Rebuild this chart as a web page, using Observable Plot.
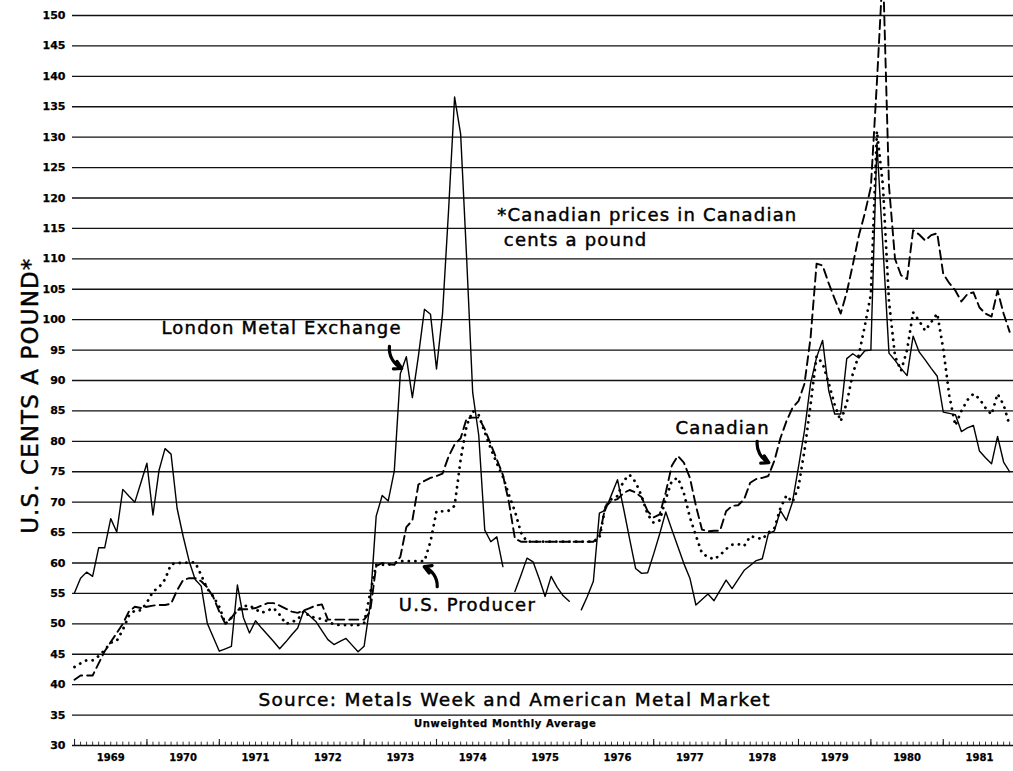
<!DOCTYPE html>
<html>
<head>
<meta charset="utf-8">
<script src="https://cdn.jsdelivr.net/npm/d3@7"></script>
<script src="https://cdn.jsdelivr.net/npm/@observablehq/plot@0.6"></script>
<style>
  html, body { margin: 0; padding: 0; background: #fff; }
  #chart { width: 1013px; height: 771px; overflow: hidden; }
</style>
</head>
<body>
<div id="chart"></div>
<script>
// ---- Data: monthly averages, Jan 1969 .. Dec 1981 (cents a pound) ----
const firstYear = 1969;
const yearLabels = [1969, 1970, 1971, 1972, 1973, 1974, 1975, 1976, 1977, 1978, 1979, 1980, 1981];
const yTickValues = [30, 35, 40, 45, 50, 55, 60, 65, 70, 75, 80, 85, 90, 95, 100, 105, 110, 115, 120, 125, 130, 135, 140, 145, 150];

// London Metal Exchange (solid)
const lme = [
  55.1, 57.5, 58.5, 57.8, 62.5, 62.5, 67.3, 65.1, 72.1, 71.0, 70.0, 73.2,
  76.4, 67.9, 75.2, 78.8, 77.9, 69.0, 64.4, 60.3, 57.3, 56.2, 50.1, 47.8,
  45.5, 45.9, 46.3, 56.4, 51.0, 48.5, 50.5, 49.3, 48.2, 47.1, 45.9, 47.0,
  48.2, 49.3, 52.2, 51.3, 50.4, 48.9, 47.4, 46.6, 47.1, 47.6, 46.5, 45.4,
  46.3, 53.2, 67.7, 71.1, 70.2, 75.1, 91.1, 93.9, 87.2, 94.0, 101.7, 100.9,
  91.9, 101.0, 118.0, 136.6, 130.5, 110.0, 88.0, 81.0, 65.4, 63.5, 64.3, 59.4,
  null, 55.3, 58.0, 60.8, 60.2, 57.5, 54.5, 57.8, 56.0, 54.6, 53.7, null,
  52.3, 54.5, 57.0, 68.2, 68.7, 71.2, 73.7, 69.0, 64.0, 59.1, 58.3, 58.4,
  61.5, 64.8, 68.4, 65.5, 62.7, 59.9, 57.5, 53.1, 54.0, 54.9, 53.8, 55.5,
  57.2, 55.8, 57.3, 58.8, 59.6, 60.4, 60.7, 64.8, 65.3, 68.6, 67.0, 70.0,
  75.8, 81.8, 89.5, 93.8, 96.6, 88.4, 84.5, 84.5, 93.6, 94.4, 93.7, 94.9,
  95.0, 129.0, 112.0, 94.5, 93.3, 92.0, 90.8, 97.3, 94.7, 93.4, 92.0, 90.7,
  84.8, 84.6, 84.4, 81.6, 82.2, 82.6, 78.4, 77.3, 76.3, 80.8, 76.6, 75.0
];

// Canadian (dashed), Canadian cents a pound
const canadian = [
  40.8, 41.5, 41.5, 41.5, 43.5, 45.5, 47.0, 48.5, 50.0, 52.0, 52.8, 52.6,
  52.8, 53.0, 53.1, 53.1, 53.3, 55.5, 57.2, 57.5, 57.5, 57.0, 56.0, 54.4,
  52.0, 50.0, 51.0, 52.3, 52.4, 52.4, 52.6, 53.0, 53.4, 53.4, 53.0, 52.5,
  52.0, 51.8, 52.2, 52.6, 53.0, 53.2, 50.7, 50.7, 50.7, 50.7, 50.7, 50.7,
  50.7, 52.0, 59.5, 60.0, 59.8, 59.7, 61.0, 65.9, 67.0, 72.9, 73.5, 74.0,
  74.3, 74.7, 77.5, 79.5, 80.5, 83.8, 83.9, 83.9, 82.0, 79.5, 77.0, 74.5,
  70.0, 64.0, 63.5, 63.5, 63.5, 63.5, 63.5, 63.5, 63.5, 63.5, 63.5, 63.5,
  63.5, 63.5, 63.5, 64.5, 69.3, 70.2, 70.5, 71.5, 72.0, 71.6, 70.8, 68.5,
  67.5, 68.0, 71.6, 76.0, 77.6, 76.5, 74.0, 69.4, 65.5, 65.2, 65.3, 65.3,
  68.5, 69.4, 69.5, 70.5, 73.2, 73.8, 74.0, 74.3, 76.8, 80.5, 83.3, 85.5,
  86.6, 89.5, 97.0, 109.2, 108.9, 106.0, 103.4, 101.0, 104.5, 109.0, 113.8, 117.5,
  121.8, 139.0, 158.0, 122.0, 110.0, 107.3, 106.7, 114.7, 114.0, 113.0, 113.9, 114.2,
  107.5, 106.0, 104.8, 103.0, 104.2, 104.5, 102.0, 101.0, 100.5, 104.8, 101.0, 98.0
];

// U.S. Producer (dotted)
const usProducer = [
  42.9, 43.5, 44.0, 44.0, 44.7, 45.7, 46.9, 47.2, 49.0, 51.3, 52.2, 52.2,
  53.5, 55.3, 56.0, 57.3, 59.8, 60.0, 60.0, 60.1, 60.1, 58.0, 55.8, 54.5,
  52.8, 50.0, 51.0, 52.3, 52.9, 53.0, 52.4, 51.8, 52.2, 52.6, 51.5, 50.0,
  50.3, 50.7, 52.1, 51.2, 51.0, 50.8, 50.4, 49.9, 49.8, 49.8, 49.8, 49.8,
  50.1, 55.0, 59.7, 59.7, 59.7, 60.0, 60.3, 60.3, 60.3, 60.3, 60.3, 63.5,
  68.5, 68.5, 68.6, 69.4, 77.0, 82.6, 85.0, 84.3, 81.5, 78.8, 76.4, 74.2,
  71.2, 68.5, 65.0, 63.5, 63.5, 63.5, 63.5, 63.5, 63.5, 63.5, 63.5, 63.5,
  63.5, 63.5, 63.5, 64.0, 69.3, 70.5, 71.0, 73.5, 74.5, 73.3, 71.0, 68.0,
  66.6, 67.0, 70.5, 73.5, 74.0, 71.5, 67.5, 64.5, 61.6, 61.0, 60.6, 61.3,
  62.3, 63.0, 63.1, 62.8, 64.4, 64.2, 63.9, 65.0, 65.7, 69.0, 71.1, 70.0,
  72.5, 78.5, 86.0, 94.0, 92.8, 89.6, 86.0, 83.3, 86.3, 91.1, 94.2, 99.0,
  104.2, 131.0, 122.0, 103.0, 94.0, 91.6, 95.0, 101.2, 99.8, 98.2, 99.6, 101.0,
  95.2, 87.5, 82.6, 85.0, 86.8, 87.8, 87.0, 85.5, 84.4, 87.8, 86.0, 82.6
];

// Text annotations (positions in chart units: fractional year, cents)
const labelTexts = ["London Metal Exchange", "*Canadian prices in Canadian", "cents a pound", "Canadian", "U.S. Producer"];
const labelX = [1970.20, 1974.84, 1974.93, 1977.30, 1973.48];
const labelY = [98.6, 117.1, 113.0, 82.1, 53.0];
const sourceText = "Source: Metals Week and American Metal Market";
const subText = "Unweighted Monthly Average";
const yTitle = "U.S. CENTS A POUND*";

// Pointer arrows (start -> tip, chart units)
const arrowFromX = [1973.35, 1978.43, 1974.01];
const arrowFromY = [95.6, 80.0, 56.1];
const arrowToX = [1973.52, 1978.59, 1973.83];
const arrowToY = [92.0, 76.5, 59.4];

// ---- Build tables ----
const rows = lme.map((v, i) => ({
  t: firstYear + i / 12,
  lme: v,
  canadian: canadian[i],
  us: usProducer[i]
}));
const labels = labelTexts.map((s, i) => ({text: s, x: labelX[i], y: labelY[i]}));
const arrows = arrowFromX.map((x, i) => ({x1: x, y1: arrowFromY[i], x2: arrowToX[i], y2: arrowToY[i]}));
const monthTicks = d3.range(0, yearLabels.length * 12 + 1).map(i => firstYear + i / 12);
const yearTicks = d3.range(0, yearLabels.length + 1).map(i => firstYear + i);

const svg = Plot.plot({
  width: 1013,
  height: 771,
  marginTop: 15,
  marginBottom: 26,
  marginLeft: 72,
  marginRight: 0,
  style: {fontFamily: "'DejaVu Sans', sans-serif", fontSize: "11px", fontWeight: "bold", background: "#fff", color: "#000"},
  x: {type: "linear", domain: [1968.972, 1981.97]},
  y: {domain: [30, 150]},
  marks: [
    Plot.ruleY(yTickValues, {stroke: "#111", strokeWidth: 1.4}),
    Plot.ruleX(monthTicks, {y1: 30, y2: 30.55, stroke: "#222", strokeWidth: 0.9}),
    Plot.ruleX(yearTicks, {y1: 30, y2: 31, stroke: "#222", strokeWidth: 1.1}),
    Plot.axisY({ticks: yTickValues, tickSize: 0, tickPadding: 7, label: null, fontSize: 11, tickFormat: d => String(d)}),
    Plot.axisX({ticks: yearLabels.map(y => y + 0.5), tickFormat: d => String(Math.floor(d)), tickSize: 0, tickPadding: 8, label: null, fontSize: 10}),
    Plot.line(rows, {x: "t", y: "lme", stroke: "#000", strokeWidth: 1.4}),
    Plot.line(rows, {x: "t", y: "canadian", stroke: "#000", strokeWidth: 1.9, strokeDasharray: "9,5"}),
    Plot.line(rows, {x: "t", y: "us", stroke: "#000", strokeWidth: 2.8, strokeDasharray: "0.1,6.5", strokeLinecap: "round"}),
    Plot.arrow(arrows, {x1: "x1", y1: "y1", x2: "x2", y2: "y2", bend: -35, stroke: "#000", strokeWidth: 3.2, headLength: 9}),
    Plot.text(labels, {x: "x", y: "y", text: "text", textAnchor: "start", fontSize: 18, fontWeight: "normal", fill: "#000"}),
    Plot.text([sourceText], {x: () => 1975.08, y: () => 37.4, text: d => d, textAnchor: "middle", fontSize: 18.5, fontWeight: "normal", fill: "#000"}),
    Plot.text([subText], {x: () => 1974.95, y: () => 33.6, text: d => d, textAnchor: "middle", fontSize: 10, fontWeight: "bold", fill: "#000"}),
    Plot.text([yTitle], {x: () => 1968.39, y: () => 87.5, text: d => d, rotate: -90, textAnchor: "middle", fontSize: 23, fontWeight: "normal", fill: "#000"})
  ]
});

const spacing = {};
labelTexts.forEach(s => spacing[s] = "1.2px");
spacing[sourceText] = "1.3px";
spacing[subText] = "0.6px";
spacing[yTitle] = "1.1px";
d3.select(svg).selectAll("text").each(function () {
  const s = this.textContent;
  if (spacing[s]) this.setAttribute("letter-spacing", spacing[s]);
  // slightly heavier glyphs, like the printed original
  this.setAttribute("stroke", "#000");
  this.setAttribute("stroke-width", spacing[s] && s !== subText ? "0.45" : "0.25");
});

document.getElementById("chart").appendChild(svg);
</script>
</body>
</html>
